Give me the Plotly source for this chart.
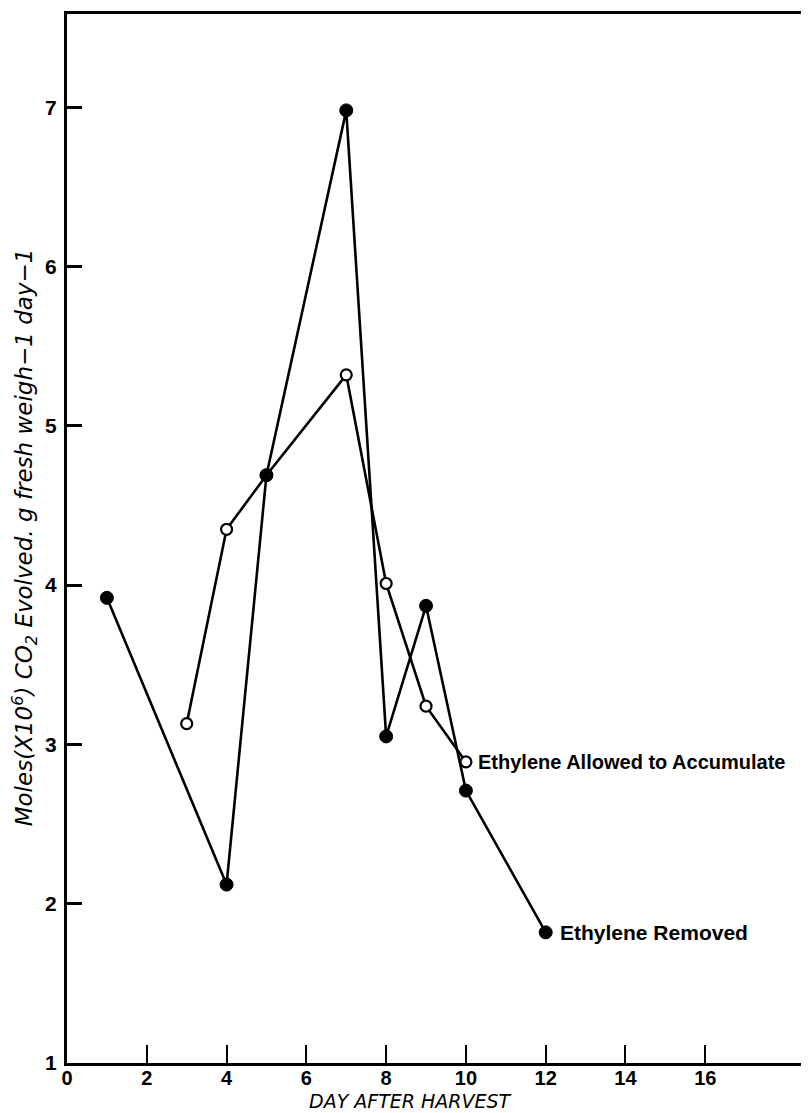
import plotly.graph_objects as go

# Ethylene removed (filled circles)
days_removed = [1, 4, 5, 7, 8, 9, 10, 12]
co2_removed = [3.92, 2.12, 4.69, 6.98, 3.05, 3.87, 2.71, 1.82]

# Ethylene allowed to accumulate (open circles)
days_accum = [3, 4, 5, 7, 8, 9, 10]
co2_accum = [3.13, 4.35, 4.69, 5.32, 4.01, 3.24, 2.89]

x_ticks = [0, 2, 4, 6, 8, 10, 12, 14, 16]
y_ticks = [1, 2, 3, 4, 5, 6, 7]

label_removed = "Ethylene Removed"
label_accum = "Ethylene Allowed to Accumulate"

fig = go.Figure()
fig.add_trace(go.Scatter(
    x=days_accum, y=co2_accum, mode="lines+markers",
    line=dict(color="black", width=2.6),
    marker=dict(symbol="circle", size=11, color="white",
                line=dict(color="black", width=2.2)),
    showlegend=False,
))
fig.add_trace(go.Scatter(
    x=days_removed, y=co2_removed, mode="lines+markers",
    line=dict(color="black", width=2.6),
    marker=dict(symbol="circle", size=13, color="black",
                line=dict(color="black", width=1)),
    showlegend=False,
))

fig.add_annotation(x=days_accum[-1], y=co2_accum[-1], text=label_accum,
                   showarrow=False, xanchor="left", yanchor="middle", xshift=10,
                   font=dict(family="Liberation Sans, Arial", size=20, color="black", weight="bold"))
fig.add_annotation(x=days_removed[-1], y=co2_removed[-1], text=label_removed,
                   showarrow=False, xanchor="left", yanchor="middle", xshift=12,
                   font=dict(family="Liberation Sans, Arial", size=21, color="black", weight="bold"))

# axis titles
fig.add_annotation(xref="paper", yref="paper", x=0.4636, y=0, yshift=-38,
                   text="<i>DAY AFTER HARVEST</i>", showarrow=False,
                   xanchor="center", yanchor="middle", borderpad=0,
                   font=dict(family="DejaVu Sans", size=19, color="black"))
fig.add_annotation(xref="paper", yref="y", x=0, xshift=-43, y=4.30,
                   text="<i>Moles(X10<sup>6</sup>) CO<sub>2</sub> Evolved. g fresh weigh−1 day−1</i>",
                   textangle=-90, showarrow=False, xanchor="center", yanchor="middle",
                   font=dict(family="DejaVu Sans", size=23, color="black"))

fig.update_xaxes(
    range=[0, 18.6], tickvals=x_ticks, ticktext=[str(v) for v in x_ticks],
    showline=True, linecolor="black", linewidth=3, mirror=True,
    ticks="inside", ticklen=18, tickwidth=2, tickcolor="black",
    ticklabelstandoff=-5,
    showgrid=False, zeroline=False,
    tickfont=dict(family="Liberation Sans, Arial", size=20, color="black", weight="bold"),
)
fig.update_yaxes(
    range=[1, 7.585], tickvals=y_ticks, ticktext=[str(v) for v in y_ticks],
    showline=True, linecolor="black", linewidth=3,
    ticks="inside", ticklen=15, tickwidth=2.5, tickcolor="black",
    ticklabelstandoff=3,
    showgrid=False, zeroline=False,
    tickfont=dict(family="Liberation Sans, Arial", size=21, color="black", weight="bold"),
)

# page body has an 8px default margin, so the figure is offset by 8px
fig.update_layout(
    width=801, height=1105,
    margin=dict(l=59, r=0, t=6, b=50),
    paper_bgcolor="white", plot_bgcolor="white",
)

fig.write_html("out.html")
